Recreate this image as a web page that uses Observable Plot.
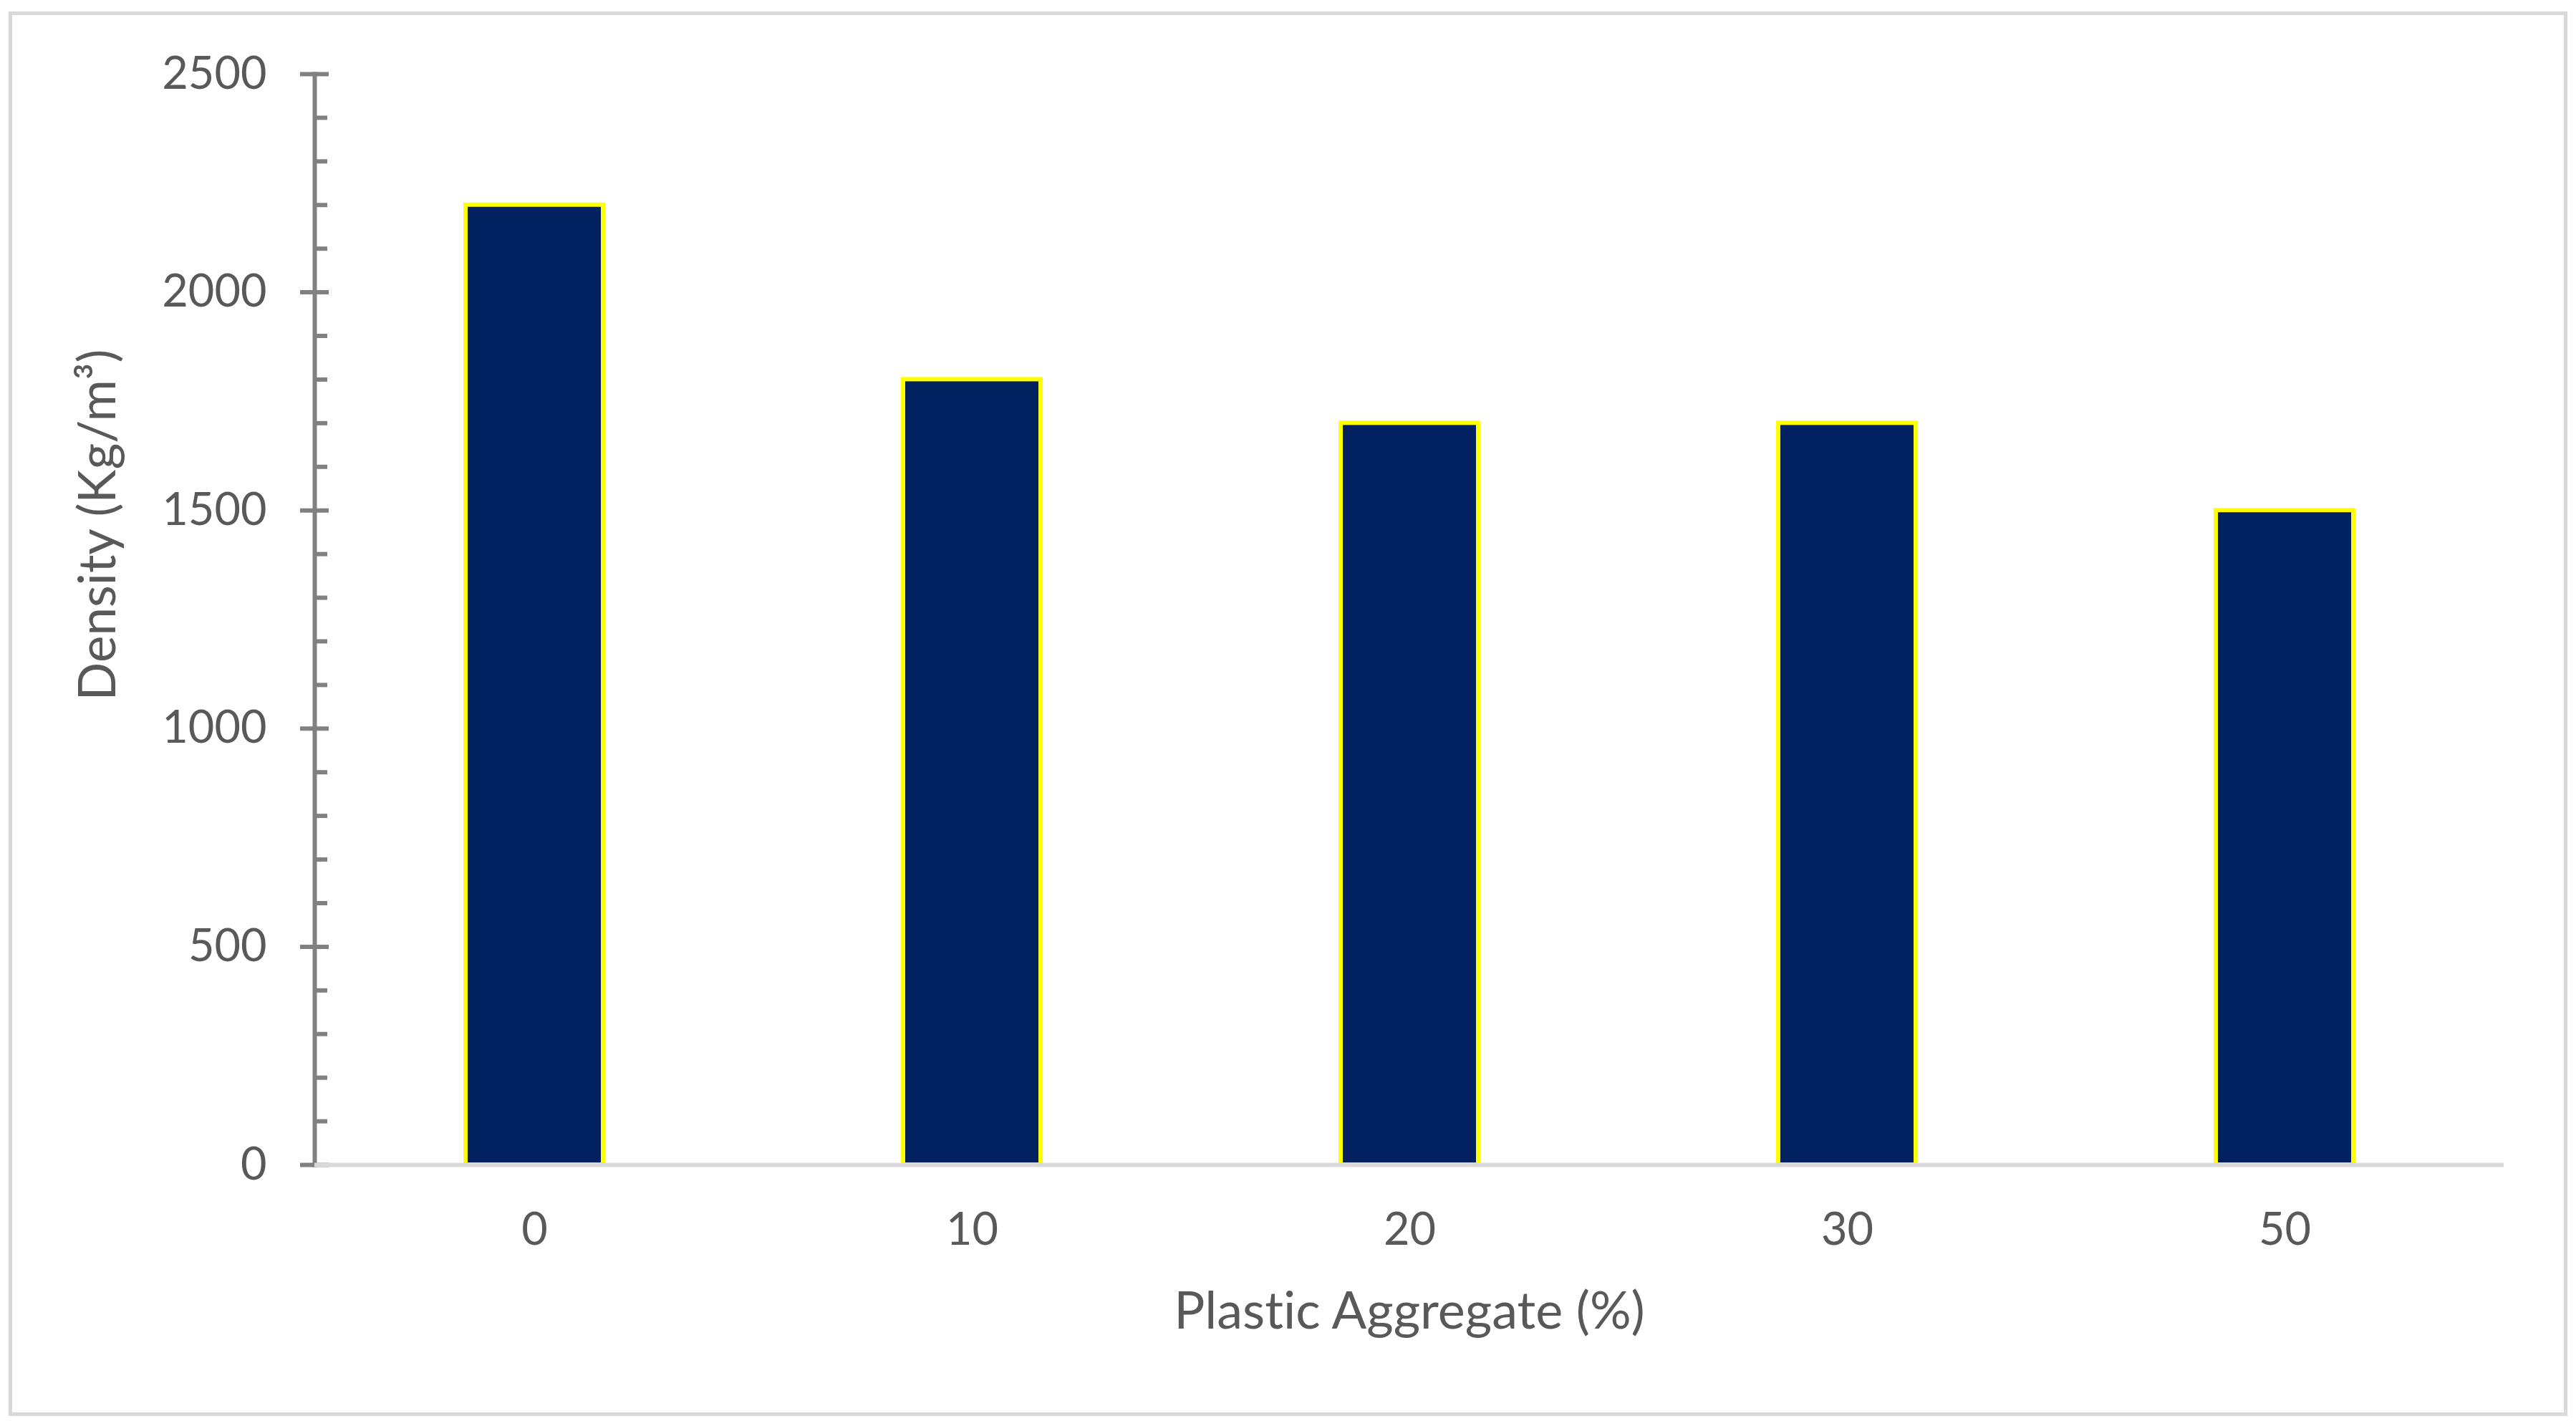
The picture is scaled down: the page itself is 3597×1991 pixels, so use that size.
<!DOCTYPE html>
<html><head><meta charset="utf-8">
<script src="https://cdn.jsdelivr.net/npm/d3@7"></script>
<script src="https://cdn.jsdelivr.net/npm/@observablehq/plot@0.6"></script>
<style>
html,body{margin:0;padding:0;background:#fff;}
#wrap{position:relative;width:3597px;height:1991px;overflow:hidden;background:#fff;}
#chart{position:absolute;left:0;top:0;}
#chart svg text{font-variant-ligatures:none;font-feature-settings:"liga" 0;}
#border{position:absolute;left:12px;top:16px;width:3573px;height:1961px;box-sizing:border-box;border:5px solid #d9d9d9;pointer-events:none;}
</style></head><body>
<div id="wrap"><div id="chart"></div><div id="border"></div></div>
<script>
const categories = ["0", "10", "20", "30", "50"];
const densities = [2200, 1800, 1700, 1700, 1500];
const yMajorTicks = [0, 500, 1000, 1500, 2000, 2500];
const yMinorTicks = [100, 200, 300, 400, 600, 700, 800, 900, 1100, 1200, 1300, 1400, 1600, 1700, 1800, 1900, 2100, 2200, 2300, 2400];
const xTitle = "Plastic Aggregate (%)";
const yTitle = "Density (Kg/m³)";

const data = categories.map((c, i) => ({pct: c, density: densities[i]}));
const font = "Lato, 'Open Sans', sans-serif";
const textColor = "#595959";
const axisColor = "#808080";

const chart = Plot.plot({
  width: 3597, height: 1991,
  marginLeft: 439, marginRight: 101, marginTop: 103, marginBottom: 365,
  style: {fontFamily: font, color: textColor, background: "transparent"},
  x: {domain: categories, paddingInner: 0.686, paddingOuter: 0.343},
  y: {domain: [0, 2500]},
  marks: [
    Plot.axisY(yMinorTicks, {tickSize: 18, dx: 18, stroke: axisColor, strokeWidth: 6, tickFormat: () => "", label: null}),
    Plot.axisY(yMajorTicks, {tickSize: 40, dx: 20, stroke: axisColor, strokeWidth: 6, tickFormat: () => "", label: null}),
    Plot.axisY(yMajorTicks, {tickSize: 0, tickPadding: 67, fontSize: 63, fill: textColor, tickFormat: d => String(d), label: null}),
    Plot.frame({anchor: "left", stroke: axisColor, strokeWidth: 6}),
    Plot.barY(data, {x: "pct", y: "density", fill: "#002060", stroke: "#ffff00", strokeWidth: 6}),
    Plot.ruleY([0], {stroke: "#d9d9d9", strokeWidth: 6}),
    Plot.axisX({tickSize: 0, tickPadding: 67, fontSize: 63, fill: textColor, label: null}),
    Plot.text([xTitle], {frameAnchor: "bottom", dy: 228, lineAnchor: "bottom", fontSize: 72, fill: textColor}),
    Plot.text([yTitle], {frameAnchor: "left", dx: -279, dy: -132, rotate: -90, textAnchor: "middle", lineAnchor: "bottom", fontSize: 71, fill: textColor})
  ]
});
document.getElementById("chart").appendChild(chart);
</script>
</body></html>
